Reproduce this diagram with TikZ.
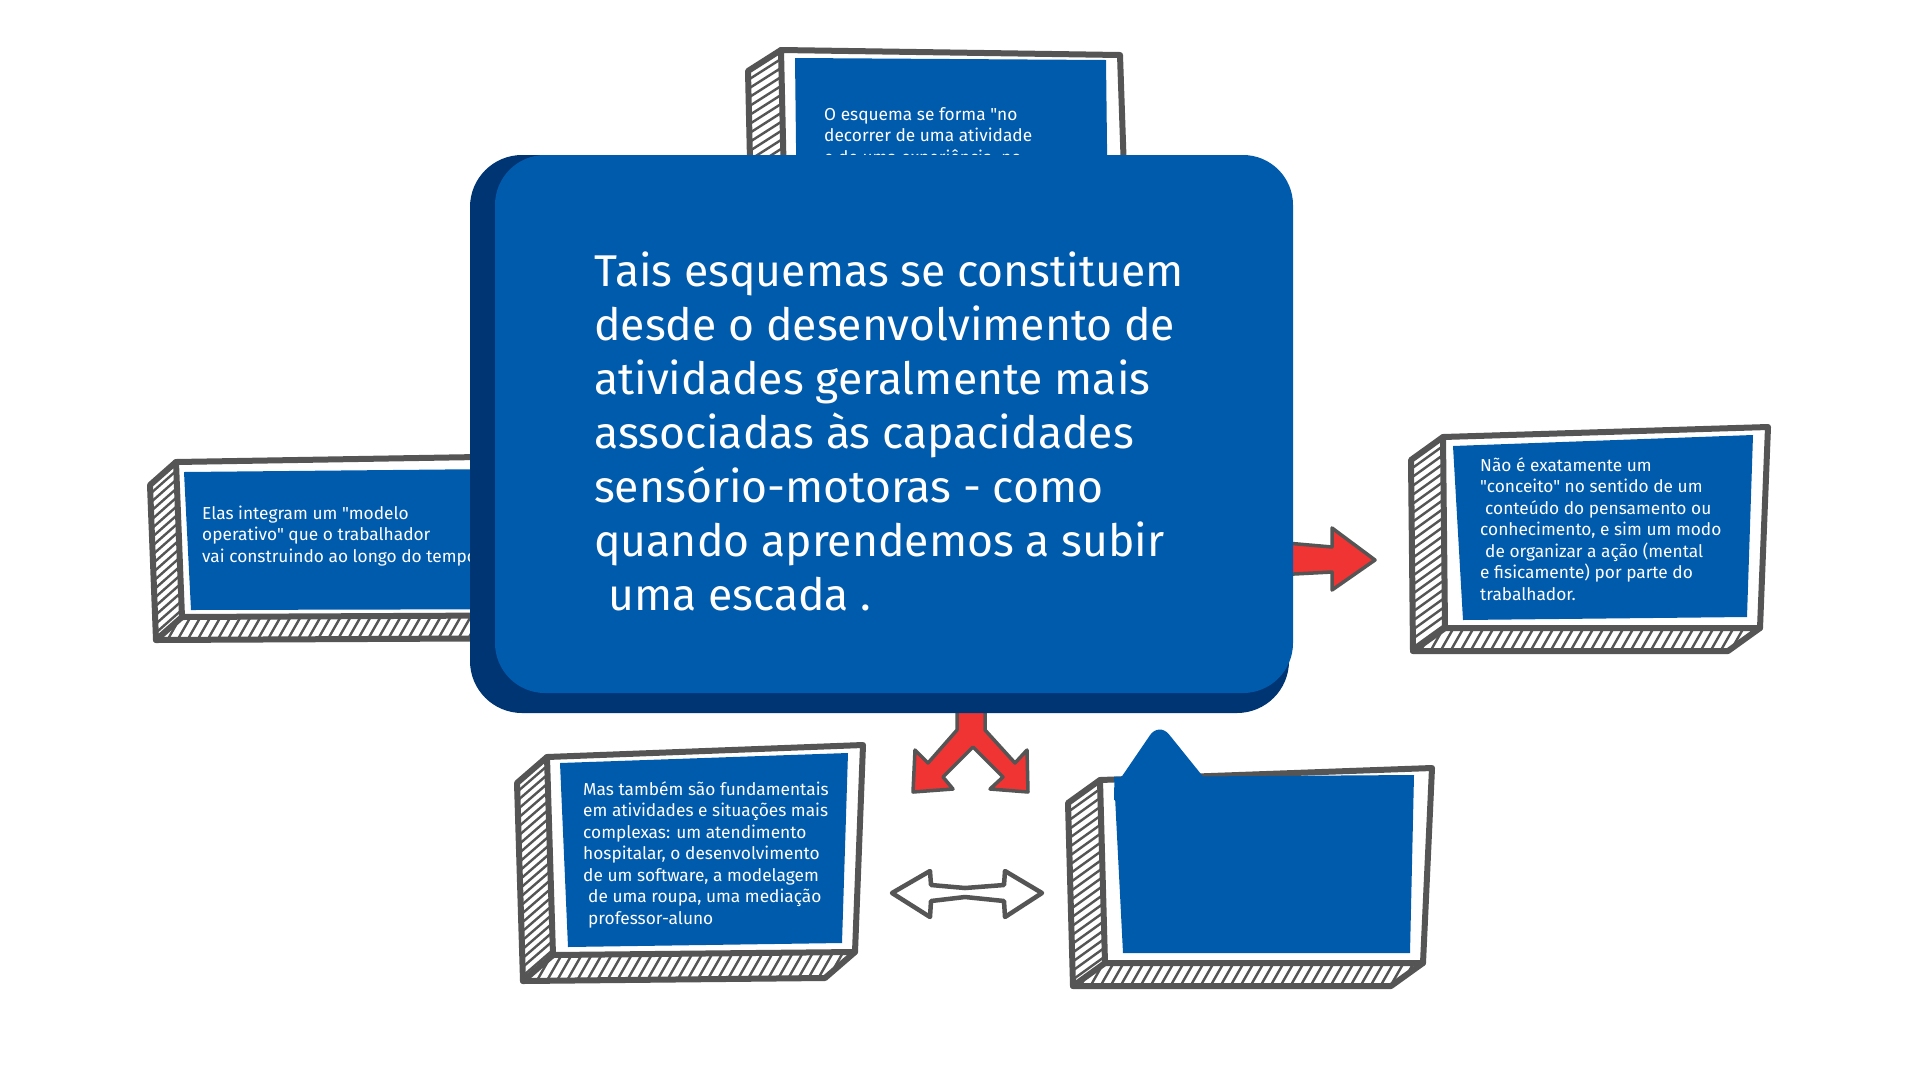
\documentclass[tikz,border=0pt]{standalone}
\usepackage{fontspec}
\setmainfont{Fira Sans}[Ligatures=TeXOff]
\usetikzlibrary{calc}
\definecolor{mblue}{HTML}{005BAC}
\definecolor{dblue}{HTML}{003574}
\definecolor{sgray}{HTML}{555555}
\definecolor{ared}{HTML}{F03434}
\tikzset{
  frameline/.style={draw=sgray, line width=6pt, line join=round, line cap=round},
  hatchline/.style={draw=sgray, line width=2.4pt},
  smalltext/.style={text=white, align=left, anchor=base west, inner sep=0pt, font=\fontsize{17.3}{21.5}\selectfont},
  bigtext/.style={text=white, align=left, anchor=base west, inner sep=0pt, font=\fontsize{44.5}{54}\selectfont},
  redarrow/.style={fill=ared, draw=sgray, line width=3.5pt, line join=round},
  whitearrow/.style={fill=white, draw=sgray, line width=4.5pt, line join=round},
}
\newcommand{\skbox}[2]{%
  \fill[white] (tl) -- ($(tl)+(#1,#2)$) -- ($(bl)+(#1,#2)$) -- ($(br)+(#1,#2)$) -- (br) -- (bl) -- cycle;
  \begin{scope}
    \clip (tl) -- ($(tl)+(#1,#2)$) -- ($(bl)+(#1,#2)$) -- (bl) -- cycle;
    \foreach \k in {-6,...,32} \draw[hatchline] ($(tl)+({-2*(#1)},{\k*9-2*(#2)})$) -- ++({4*(#1)},{4*(#2)});
  \end{scope}
  \begin{scope}
    \clip (bl) -- ($(bl)+(#1,#2)$) -- ($(br)+(#1,#2)$) -- (br) -- cycle;
    \foreach \k in {-6,...,45} \draw[hatchline] ($(bl)+({\k*10+20},-20)$) -- ++(-40,70);
  \end{scope}
  \draw[frameline] (tl) -- ($(tl)+(#1,#2)$) -- ($(bl)+(#1,#2)$) -- ($(br)+(#1,#2)$) -- (br);
  \draw[frameline] ($(bl)+(#1,#2)$) -- (bl);
  \filldraw[frameline, fill=white] (tl) -- (tr) -- (br) -- (bl) -- cycle;
}
\begin{document}
\begin{tikzpicture}[x=1pt,y=-1pt]
\useasboundingbox (0,0) rectangle (1920,1080);
\fill[white] (0,0) rectangle (1920,1080);

% top box
\coordinate (tl) at (781,50); \coordinate (tr) at (1120,55);
\coordinate (br) at (1126,230); \coordinate (bl) at (785,230);
\skbox{-33}{21}
\fill[mblue] (795,58) -- (1106,60) -- (1108,230) -- (797,230) -- cycle;
\node[smalltext] (ttop) at (824,163) {O esquema se forma "no\\decorrer de uma atividade\\e de uma experiência, no};

% left box
\coordinate (tl) at (176,462); \coordinate (tr) at (600,455);
\coordinate (br) at (600,615); \coordinate (bl) at (182,617);
\skbox{-26}{23}
\fill[mblue] (184,472) -- (600,468) -- (600,609) -- (191,610) -- cycle;
\node[smalltext] (tleft) at (202,562) {Elas integram um "modelo\\operativo" que o trabalhador\\vai construindo ao longo do tempo};

% right box
\coordinate (tl) at (1443,437); \coordinate (tr) at (1768,427);
\coordinate (br) at (1760,628); \coordinate (bl) at (1445,628);
\skbox{-32}{23}
\fill[mblue] (1453,446) -- (1753,435) -- (1747,617) -- (1463,620) -- cycle;
\node[smalltext] (tright) at (1480,600) {Não é exatamente um\\"conceito" no sentido de um\\\hspace*{5pt}conteúdo do pensamento ou\\conhecimento, e sim um modo\\\hspace*{5pt}de organizar a ação (mental\\e fisicamente) por parte do\\trabalhador.};

% bottom-left box
\coordinate (tl) at (547,757); \coordinate (tr) at (863,745);
\coordinate (br) at (855,952); \coordinate (bl) at (553,955);
\skbox{-30}{26}
\fill[mblue] (560,763) -- (848,753) -- (842,943) -- (568,947) -- cycle;
\node[smalltext] (tbl) at (583,924) {Mas também são fundamentais\\em atividades e situações mais\\complexas: um atendimento\\hospitalar, o desenvolvimento\\de um software, a modelagem\\\hspace*{5pt}de uma roupa, uma mediação\\\hspace*{5pt}professor-aluno};

% bottom-right box
\coordinate (tl) at (1100,780); \coordinate (tr) at (1432,768);
\coordinate (br) at (1423,963); \coordinate (bl) at (1105,963);
\skbox{-32}{23}
\fill[mblue] (1114,777) -- (1414,775) -- (1410,953) -- (1123,953) -- cycle;
\fill[mblue] (1114,800) -- (1114,788) [rounded corners=16pt] -- (1159,722) [rounded corners=6pt] -- (1209,784) [sharp corners] -- (1209,800) -- cycle;

% double arrow
\draw[whitearrow] (892,893) -- (930,871) -- (931,885) -- (965,888) -- (1004,885) -- (1005,871) -- (1042,893) -- (1005,917) -- (1004,901) -- (965,897) -- (931,901) -- (930,917) -- cycle;

% right arrow
\draw[redarrow] (1275,542) -- (1332,547) -- (1332,528) -- (1375,560) -- (1332,590) -- (1332,572) -- (1275,575) -- cycle;

% fork arrow
\draw[redarrow] (957,700) -- (957,730) -- (928,763) -- (915,750) -- (913,792) -- (953,789) -- (943,777) -- (973,747) -- (1003,777) -- (990,789) -- (1028,792) -- (1027,750) -- (1015,763) -- (985,730) -- (985,700) -- cycle;

% main box
\fill[dblue, rounded corners=52pt] (470,155) rectangle (1289,713);
\fill[mblue, rounded corners=50pt] (495,155) rectangle (1293,693);
\node[bigtext] (main) at (594,610) {Tais esquemas se constituem\\desde o desenvolvimento de\\atividades geralmente mais\\associadas às capacidades\\sensório-motoras - como\\quando aprendemos a subir\\\hspace*{14pt}uma escada .};
\end{tikzpicture}
\end{document}
